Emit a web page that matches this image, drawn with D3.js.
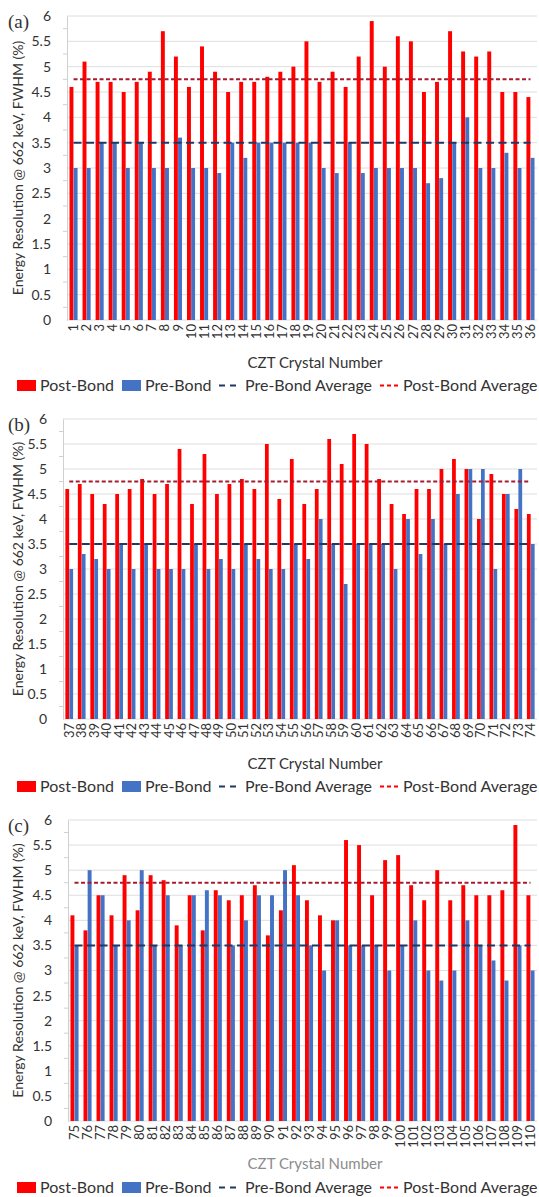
<!DOCTYPE html>
<html>
<head>
<meta charset="utf-8">
<script src="https://cdn.jsdelivr.net/npm/d3@7"></script>
<style>
  body { margin: 0; background: #fff; }
  svg { display: block; font-family: Lato, "Open Sans", sans-serif; }
</style>
</head>
<body>
<svg id="chart" width="539" height="1197"></svg>
<script>
// crystal numbers, panel (a) (b) (c)
var crystalsA = [1,2,3,4,5,6,7,8,9,10,11,12,13,14,15,16,17,18,19,20,21,22,23,24,25,26,27,28,29,30,31,32,33,34,35,36];
var crystalsB = [37,38,39,40,41,42,43,44,45,46,47,48,49,50,51,52,53,54,55,56,57,58,59,60,61,62,63,64,65,66,67,68,69,70,71,72,73,74];
var crystalsC = [75,76,77,78,79,80,81,82,83,84,85,86,87,88,89,90,91,92,93,94,95,96,97,98,99,100,101,102,103,104,105,106,107,108,109,110];

// energy resolution @ 662 keV, FWHM (%)
var postA = [4.6,5.1,4.7,4.7,4.5,4.7,4.9,5.7,5.2,4.6,5.4,4.9,4.5,4.7,4.7,4.8,4.9,5.0,5.5,4.7,4.9,4.6,5.2,5.9,5.0,5.6,5.5,4.5,4.7,5.7,5.3,5.2,5.3,4.5,4.5,4.4];
var preA  = [3.0,3.0,3.5,3.5,3.0,3.5,3.0,3.0,3.6,3.0,3.0,2.9,3.5,3.2,3.5,3.5,3.5,3.5,3.5,3.0,2.9,3.5,2.9,3.0,3.0,3.0,3.0,2.7,2.8,3.5,4.0,3.0,3.0,3.3,3.0,3.2];

var postB = [4.6,4.7,4.5,4.3,4.5,4.6,4.8,4.5,4.7,5.4,4.3,5.3,4.5,4.7,4.8,4.6,5.5,4.4,5.2,4.3,4.6,5.6,5.1,5.7,5.5,4.8,4.3,4.1,4.6,4.6,5.0,5.2,5.0,4.0,4.9,4.5,4.2,4.1];
var preB  = [3.0,3.3,3.2,3.0,3.5,3.0,3.5,3.0,3.0,3.0,3.5,3.0,3.2,3.0,3.5,3.2,3.0,3.0,3.5,3.2,4.0,3.5,2.7,3.5,3.5,3.5,3.0,4.0,3.3,4.0,3.5,4.5,5.0,5.0,3.0,4.5,5.0,3.5];

var postC = [4.1,3.8,4.5,4.1,4.9,4.2,4.9,4.8,3.9,4.5,3.8,4.6,4.4,4.5,4.7,3.7,4.2,5.1,4.4,4.1,4.0,5.6,5.5,4.5,5.2,5.3,4.7,4.4,5.0,4.4,4.7,4.5,4.5,4.6,5.9,4.5];
var preC  = [3.5,5.0,4.5,3.5,4.0,5.0,3.5,4.5,3.5,4.5,4.6,4.5,3.5,4.0,4.5,4.5,5.0,4.5,3.5,3.0,4.0,3.5,3.5,3.5,3.0,3.5,4.0,3.0,2.8,3.0,4.0,3.5,3.2,2.8,3.5,3.0];

var preAvg = 3.5;
var postAvg = 4.75;

var yTicks = [0,0.5,1,1.5,2,2.5,3,3.5,4,4.5,5,5.5,6];

var RED = "#ff0000", BLUE = "#4472c4", PRE_LINE = "#1f3864", POST_LINE = "#a51c30";
var TEXT = "#333";

var svg = d3.select("#chart");
svg.append("rect").attr("width", 539).attr("height", 1197).attr("fill", "#fff");

var panels = [
  { tag: "(a)", crystals: crystalsA, post: postA, pre: preA, top: 16,  bottom: 320,  left: 67, titleY: 368,  legendY: 385,  titleColor: TEXT },
  { tag: "(b)", crystals: crystalsB, post: postB, pre: preB, top: 419, bottom: 719,  left: 63, titleY: 769,  legendY: 786,  titleColor: TEXT },
  { tag: "(c)", crystals: crystalsC, post: postC, pre: preC, top: 820, bottom: 1121, left: 68, titleY: 1169, legendY: 1187, titleColor: "#8c8c8c" }
];
var right = 537;

panels.forEach(drawPanel);

function drawPanel(p) {
    var g = svg.append("g");

    var x = d3.scaleBand()
        .domain(p.crystals)
        .range([p.left, right]);

    var sub = d3.scaleBand()
        .domain(["post", "pre"])
        .range([0, x.bandwidth()])
        .paddingInner(0.05)
        .paddingOuter(0.6);

    var y = d3.scaleLinear()
        .domain([0, 6])
        .range([p.bottom, p.top]);

    // gridlines
    g.append("g")
        .selectAll("line")
        .data(yTicks)
        .enter().append("line")
        .attr("x1", p.left).attr("x2", right)
        .attr("y1", function (d) { return y(d); })
        .attr("y2", function (d) { return y(d); })
        .attr("stroke", "#dedede")
        .attr("stroke-width", 1);

    // minor ticks
    var minor = yTicks.slice(0, -1).map(function (d) { return d + 0.25; });
    g.append("g")
        .selectAll("line")
        .data(minor)
        .enter().append("line")
        .attr("x1", p.left - 4).attr("x2", p.left)
        .attr("y1", function (d) { return y(d); })
        .attr("y2", function (d) { return y(d); })
        .attr("stroke", "#d0d0d0");

    // y axis
    var yAxis = g.append("g")
        .attr("transform", "translate(" + p.left + ",0)")
        .call(d3.axisLeft(y).tickValues(yTicks).tickSize(0).tickPadding(16)
            .tickFormat(function (d) { return d3.format("")(d); }));
    yAxis.select(".domain").attr("stroke", "#d0d0d0");
    yAxis.selectAll("text")
        .attr("fill", TEXT)
        .style("font-size", "14px")
        .style("font-family", "Lato, sans-serif");

    // bars
    var cell = g.append("g")
        .selectAll("g")
        .data(p.crystals)
        .enter().append("g")
        .attr("transform", function (d) { return "translate(" + x(d) + ",0)"; });

    cell.append("rect")
        .attr("x", sub("post"))
        .attr("width", sub.bandwidth())
        .attr("y", function (d, i) { return y(p.post[i]); })
        .attr("height", function (d, i) { return y(0) - y(p.post[i]); })
        .attr("fill", RED);

    cell.append("rect")
        .attr("x", sub("pre"))
        .attr("width", sub.bandwidth())
        .attr("y", function (d, i) { return y(p.pre[i]); })
        .attr("height", function (d, i) { return y(0) - y(p.pre[i]); })
        .attr("fill", BLUE);

    // average lines
    var first = p.crystals[0], last = p.crystals[p.crystals.length - 1];
    var xa = x(first) + x.bandwidth() / 2, xb = x(last) + x.bandwidth() / 2;
    g.append("line")
        .attr("x1", xa).attr("x2", xb)
        .attr("y1", y(preAvg)).attr("y2", y(preAvg))
        .attr("stroke", PRE_LINE).attr("stroke-width", 2)
        .attr("stroke-dasharray", "8,4.5");
    g.append("line")
        .attr("x1", xa).attr("x2", xb)
        .attr("y1", y(postAvg)).attr("y2", y(postAvg))
        .attr("stroke", POST_LINE).attr("stroke-width", 2)
        .attr("stroke-dasharray", "4,2.5");

    // x tick labels
    g.append("g")
        .selectAll("text")
        .data(p.crystals)
        .enter().append("text")
        .attr("transform", function (d) {
            return "translate(" + (x(d) + x.bandwidth() / 2) + "," + (p.bottom + 4) + ") rotate(-90)";
        })
        .attr("text-anchor", "end")
        .attr("dy", "0.35em")
        .attr("fill", TEXT)
        .style("font-size", "13px")
        .text(function (d) { return d; });

    // panel tag
    g.append("text")
        .attr("x", 8).attr("y", p.top + 12)
        .attr("fill", TEXT)
        .style("font-family", "'Liberation Serif', serif")
        .style("font-size", "19px")
        .text(p.tag);

    // axis titles
    g.append("text")
        .attr("transform", "translate(18," + ((p.top + p.bottom) / 2) + ") rotate(-90)")
        .attr("text-anchor", "middle")
        .attr("dy", "0.35em")
        .attr("fill", TEXT)
        .style("font-size", "14px")
        .text("Energy Resolution @ 662 keV, FWHM (%)");

    g.append("text")
        .attr("x", 315).attr("y", p.titleY)
        .attr("text-anchor", "middle")
        .attr("fill", p.titleColor)
        .style("font-size", "15px")
        .text("CZT Crystal Number");

    // legend
    var ly = p.legendY;
    var leg = g.append("g").attr("transform", "translate(0," + ly + ")");
    leg.append("rect").attr("x", 17).attr("y", -5).attr("width", 19).attr("height", 11).attr("fill", RED);
    leg.append("rect").attr("x", 122).attr("y", -5).attr("width", 19).attr("height", 11).attr("fill", BLUE);
    leg.append("line").attr("x1", 219).attr("x2", 241).attr("y1", 0.5).attr("y2", 0.5)
        .attr("stroke", PRE_LINE).attr("stroke-width", 2).attr("stroke-dasharray", "6,5");
    leg.append("line").attr("x1", 380).attr("x2", 400).attr("y1", 0.5).attr("y2", 0.5)
        .attr("stroke", RED).attr("stroke-width", 2).attr("stroke-dasharray", "4,3");
    var labels = [["Post-Bond", 40], ["Pre-Bond", 145], ["Pre-Bond Average", 245], ["Post-Bond Average", 403]];
    leg.selectAll("text.lg")
        .data(labels)
        .enter().append("text")
        .attr("class", "lg")
        .attr("x", function (d) { return d[1]; })
        .attr("y", 0)
        .attr("dy", "0.35em")
        .attr("fill", TEXT)
        .style("font-size", "16px")
        .text(function (d) { return d[0]; });
}
</script>
</body>
</html>
